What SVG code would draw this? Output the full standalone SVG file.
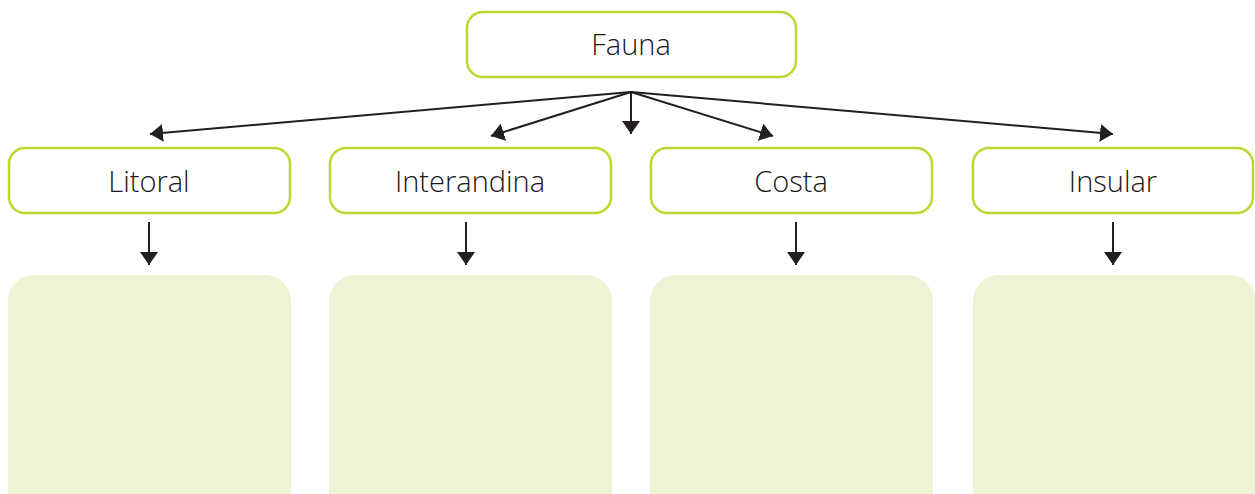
<svg xmlns="http://www.w3.org/2000/svg" width="1255" height="494" viewBox="0 0 1255 494">
<defs>
<marker id="ahd" viewBox="0 0 13 18" refX="13" refY="9" markerWidth="13" markerHeight="18" markerUnits="userSpaceOnUse" orient="auto">
<path d="M0,0 L13,9 L0,18 z" fill="#231f20"/>
</marker>
</defs>
<style>
.lbl{fill:#fff;stroke:#bfd630;stroke-width:2.5}
.pan{fill:#eff3d5}
.t{font-family:"Open Sans","Liberation Sans",sans-serif;font-weight:300;font-size:29px;fill:#1a1718;text-anchor:middle}
.c{stroke:#231f20;stroke-width:2;fill:none}
</style>
<g id="fauna"><rect class="lbl" x="467" y="12" width="329" height="65" rx="16"/><text class="t" x="631" y="55">Fauna</text></g>
<g id="litoral"><rect class="lbl" x="9" y="148" width="281" height="65" rx="16"/><text class="t" x="149" y="192">Litoral</text></g>
<g id="interandina"><rect class="lbl" x="330" y="148" width="281" height="65" rx="16"/><text class="t" x="470" y="192">Interandina</text></g>
<g id="costa"><rect class="lbl" x="651" y="148" width="281" height="65" rx="16"/><text class="t" x="791" y="192">Costa</text></g>
<g id="insular"><rect class="lbl" x="973" y="148" width="280" height="65" rx="16"/><text class="t" x="1113" y="192">Insular</text></g>
<g id="panel-litoral"><rect class="pan" x="8" y="275" width="283" height="240" rx="26"/></g>
<g id="panel-interandina"><rect class="pan" x="329" y="275" width="283" height="240" rx="26"/></g>
<g id="panel-costa"><rect class="pan" x="650" y="275" width="283" height="240" rx="26"/></g>
<g id="panel-insular"><rect class="pan" x="973" y="275" width="283" height="240" rx="26"/></g>
<g id="connectors">
<path class="c" d="M631,92 L150,134" marker-end="url(#ahd)"/>
<path class="c" d="M631,92 L491,136" marker-end="url(#ahd)"/>
<path class="c" d="M631,92 L631,134" marker-end="url(#ahd)"/>
<path class="c" d="M631,92 L773,136" marker-end="url(#ahd)"/>
<path class="c" d="M631,92 L1113,134" marker-end="url(#ahd)"/>
<path class="c" d="M149,222 L149,265" marker-end="url(#ahd)"/>
<path class="c" d="M466,222 L466,265" marker-end="url(#ahd)"/>
<path class="c" d="M796,222 L796,265" marker-end="url(#ahd)"/>
<path class="c" d="M1113,222 L1113,265" marker-end="url(#ahd)"/>
</g>
</svg>
